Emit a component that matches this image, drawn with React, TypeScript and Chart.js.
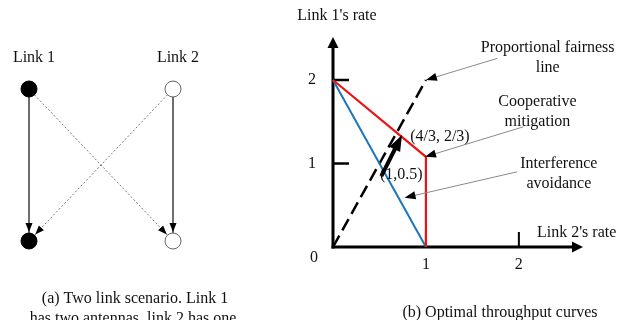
import React, { useEffect, useRef } from 'react';
import { Chart, registerables } from 'chart.js';

Chart.register(...registerables);

const W = 628;
const H = 320;
const FONT = '16px "Liberation Serif", "Times New Roman", serif';
const INK = '#111111';

// ---------- (a) Two link scenario ----------
const linkNames = ['Link 1', 'Link 2'];
const linkColumn = [0, 1];
const transmitterRow = 1;
const receiverRow = 0;
const directEdges = [[0, 0], [1, 1]]; // [transmitting link, receiving link]
const crossEdges = [[0, 1], [1, 0]];
const captionA = ['(a) Two link scenario. Link 1', 'has two antennas, link 2 has one.'];

// ---------- (b) Optimal throughput curves (x: Link 2's rate, y: Link 1's rate) ----------
const xAxisMax = 2.69;
const yAxisMax = 2.515;
const xTickValues = [1, 2];
const yTickValues = [1, 2];
const xTickLabels = ['1', '2'];
const yTickLabels = ['1', '2'];
const interferenceAvoidance = [{ x: 0, y: 2 }, { x: 1, y: 0 }];
const cooperativeMitigation = [{ x: 0, y: 2 }, { x: 1, y: 1.08 }, { x: 1, y: 0 }];
const proportionalFairness = [{ x: 0, y: 0 }, { x: 1, y: 2 }];
const gainArrow = [{ x: 0.52, y: 0.85 }, { x: 0.742, y: 1.34 }];
const pointLabels = [
  { text: '(4/3, 2/3)', x: 0.83, y: 1.32 },
  { text: '(1,0.5)', x: 0.505, y: 0.86 },
];
const calloutLines = [
  ['Proportional fairness', 'line'],
  ['Cooperative', 'mitigation'],
  ['Interference', 'avoidance'],
];
const calloutAnchors = [
  { x: 2.31, y: 2.38 },
  { x: 2.2, y: 1.74 },
  { x: 2.43, y: 1.0 },
];
const calloutTails = [
  { x: 1.77, y: 2.26 },
  { x: 2.05, y: 1.44 },
  { x: 1.98, y: 0.9 },
];
const calloutHeads = [
  { x: 1.0, y: 2.0 },
  { x: 0.99, y: 1.08 },
  { x: 0.77, y: 0.59 },
];
const yTitle = "Link 1's rate";
const xTitle = "Link 2's rate";
const captionB = '(b) Optimal throughput curves';

function head(ctx: CanvasRenderingContext2D, tx: number, ty: number, ux: number, uy: number, len: number, wid: number, color: string) {
  const bx = tx - ux * len;
  const by = ty - uy * len;
  ctx.save();
  ctx.fillStyle = color;
  ctx.beginPath();
  ctx.moveTo(tx, ty);
  ctx.lineTo(bx - uy * wid / 2, by + ux * wid / 2);
  ctx.lineTo(bx + uy * wid / 2, by - ux * wid / 2);
  ctx.closePath();
  ctx.fill();
  ctx.restore();
}

function arrow(
  ctx: CanvasRenderingContext2D,
  x1: number, y1: number, x2: number, y2: number,
  o: { lineWidth: number; color: string; headLen: number; headWidth: number; headColor: string }
) {
  const dx = x2 - x1;
  const dy = y2 - y1;
  const len = Math.hypot(dx, dy);
  const ux = dx / len;
  const uy = dy / len;
  ctx.save();
  ctx.strokeStyle = o.color;
  ctx.lineWidth = o.lineWidth;
  ctx.lineCap = 'butt';
  ctx.beginPath();
  ctx.moveTo(x1, y1);
  ctx.lineTo(x2 - ux * (o.headLen - 1), y2 - uy * (o.headLen - 1));
  ctx.stroke();
  ctx.restore();
  head(ctx, x2, y2, ux, uy, o.headLen, o.headWidth, o.headColor);
}

function text(ctx: CanvasRenderingContext2D, s: string, x: number, y: number, align: CanvasTextAlign = 'center') {
  ctx.save();
  ctx.font = FONT;
  ctx.fillStyle = INK;
  ctx.textAlign = align;
  ctx.textBaseline = 'middle';
  ctx.fillText(s, x, y);
  ctx.restore();
}

const NODE_R = 8;

const scenarioPlugin = {
  id: 'scenarioDecor',
  afterDatasetsDraw(chart: any) {
    const { ctx } = chart;
    const xs = chart.scales.x;
    const ys = chart.scales.y;
    const edges = [...directEdges, ...crossEdges];
    edges.forEach(([from, to]) => {
      const x1 = xs.getPixelForValue(linkColumn[from]);
      const y1 = ys.getPixelForValue(transmitterRow);
      const x2 = xs.getPixelForValue(linkColumn[to]);
      const y2 = ys.getPixelForValue(receiverRow);
      const len = Math.hypot(x2 - x1, y2 - y1);
      const ux = (x2 - x1) / len;
      const uy = (y2 - y1) / len;
      head(ctx, x2 - ux * (NODE_R + 1), y2 - uy * (NODE_R + 1), ux, uy, 9, 7, '#000');
    });
    linkNames.forEach((name, i) => {
      text(ctx, name, xs.getPixelForValue(linkColumn[i]) + 5, ys.getPixelForValue(transmitterRow) - 31);
    });
    text(ctx, captionA[0], 135, 299);
    text(ctx, captionA[1], 135, 319);
  },
};

const ratePlugin = {
  id: 'rateDecor',
  beforeDatasetsDraw(chart: any) {
    const { ctx } = chart;
    const xs = chart.scales.x;
    const ys = chart.scales.y;
    const ox = xs.getPixelForValue(0);
    const oy = ys.getPixelForValue(0);
    const axisOpts = { lineWidth: 3, color: '#000', headLen: 11, headWidth: 11, headColor: '#000' };
    arrow(ctx, ox, oy + 1.5, ox, ys.getPixelForValue(yAxisMax), axisOpts);
    arrow(ctx, ox - 1.5, oy, xs.getPixelForValue(xAxisMax), oy, axisOpts);
    ctx.save();
    ctx.strokeStyle = '#000';
    ctx.lineWidth = 2.5;
    yTickValues.forEach((v) => {
      const py = ys.getPixelForValue(v);
      ctx.beginPath();
      ctx.moveTo(ox, py);
      ctx.lineTo(ox + 16, py);
      ctx.stroke();
    });
    ctx.lineWidth = 2;
    xTickValues.forEach((v) => {
      const px = xs.getPixelForValue(v);
      ctx.beginPath();
      ctx.moveTo(px, oy);
      ctx.lineTo(px, oy - 15);
      ctx.stroke();
    });
    ctx.restore();
  },
  afterDatasetsDraw(chart: any) {
    const { ctx } = chart;
    const xs = chart.scales.x;
    const ys = chart.scales.y;
    const ox = xs.getPixelForValue(0);
    const oy = ys.getPixelForValue(0);
    // gain arrow
    arrow(
      ctx,
      xs.getPixelForValue(gainArrow[0].x), ys.getPixelForValue(gainArrow[0].y),
      xs.getPixelForValue(gainArrow[1].x), ys.getPixelForValue(gainArrow[1].y),
      { lineWidth: 4, color: '#000', headLen: 16, headWidth: 12, headColor: '#000' }
    );
    // callouts
    calloutLines.forEach((lines, i) => {
      arrow(
        ctx,
        xs.getPixelForValue(calloutTails[i].x), ys.getPixelForValue(calloutTails[i].y),
        xs.getPixelForValue(calloutHeads[i].x), ys.getPixelForValue(calloutHeads[i].y),
        { lineWidth: 1, color: '#8a8a8a', headLen: 11, headWidth: 8, headColor: '#000' }
      );
      const ax = xs.getPixelForValue(calloutAnchors[i].x);
      const ay = ys.getPixelForValue(calloutAnchors[i].y);
      lines.forEach((s, j) => text(ctx, s, ax, ay + j * 20));
    });
    pointLabels.forEach((p) => text(ctx, p.text, xs.getPixelForValue(p.x), ys.getPixelForValue(p.y), 'left'));
    // tick labels
    yTickValues.forEach((v, i) => text(ctx, yTickLabels[i], ox - 21, ys.getPixelForValue(v)));
    xTickValues.forEach((v, i) => text(ctx, xTickLabels[i], xs.getPixelForValue(v), oy + 18));
    text(ctx, '0', ox - 19, oy + 11);
    // titles
    text(ctx, yTitle, ox + 4, ys.getPixelForValue(yAxisMax) - 21);
    text(ctx, xTitle, xs.getPixelForValue(xAxisMax) - 46, oy - 14, 'left');
    text(ctx, captionB, 500, 313);
  },
};

function lineDs(data: any[], color: string, width: number, extra: any = {}) {
  return {
    data,
    showLine: true,
    borderColor: color,
    backgroundColor: color,
    borderWidth: width,
    pointRadius: 0,
    fill: false,
    tension: 0,
    clip: false,
    ...extra,
  };
}

export default function App() {
  const leftRef = useRef<HTMLCanvasElement>(null);
  const rightRef = useRef<HTMLCanvasElement>(null);

  useEffect(() => {
    const nodesLink1 = [
      { x: linkColumn[0], y: transmitterRow },
      { x: linkColumn[0], y: receiverRow },
    ];
    const nodesLink2 = [
      { x: linkColumn[1], y: transmitterRow },
      { x: linkColumn[1], y: receiverRow },
    ];
    const edgeDs = [
      ...directEdges.map(([a, b]) =>
        lineDs([{ x: linkColumn[a], y: transmitterRow }, { x: linkColumn[b], y: receiverRow }], '#5a5a5a', 1, { order: 2 })
      ),
      ...crossEdges.map(([a, b]) =>
        lineDs([{ x: linkColumn[a], y: transmitterRow }, { x: linkColumn[b], y: receiverRow }], '#7a7a7a', 1, {
          order: 2,
          borderDash: [2, 2],
        })
      ),
    ];
    const left = new Chart(leftRef.current!, {
      type: 'scatter',
      data: {
        datasets: [
          {
            data: nodesLink1,
            pointRadius: NODE_R,
            pointBackgroundColor: '#000',
            pointBorderColor: '#000',
            pointBorderWidth: 1,
            showLine: false,
            clip: false,
            order: 0,
          },
          {
            data: nodesLink2,
            pointRadius: NODE_R,
            pointBackgroundColor: '#fff',
            pointBorderColor: '#666',
            pointBorderWidth: 1,
            showLine: false,
            clip: false,
            order: 0,
          },
          ...edgeDs,
        ] as any,
      },
      options: {
        animation: false,
        responsive: false,
        events: [],
        layout: { padding: { left: 29, right: W - 173, top: 89, bottom: H - 241 } },
        scales: {
          x: { type: 'linear', min: 0, max: 1, display: false },
          y: { type: 'linear', min: 0, max: 1, display: false },
        },
        plugins: { legend: { display: false }, tooltip: { enabled: false } },
      },
      plugins: [scenarioPlugin],
    });

    const right = new Chart(rightRef.current!, {
      type: 'scatter',
      data: {
        datasets: [
          lineDs(cooperativeMitigation, '#ee1111', 2.2),
          lineDs(interferenceAvoidance, '#1b75bb', 2),
          lineDs(proportionalFairness, '#000', 2.5, { borderDash: [13, 6] }),
        ] as any,
      },
      options: {
        animation: false,
        responsive: false,
        events: [],
        layout: { padding: { left: 333, right: W - 583, top: 37, bottom: H - 247 } },
        scales: {
          x: { type: 'linear', min: 0, max: xAxisMax, display: false },
          y: { type: 'linear', min: 0, max: yAxisMax, display: false },
        },
        plugins: { legend: { display: false }, tooltip: { enabled: false } },
      },
      plugins: [ratePlugin],
    });

    return () => {
      left.destroy();
      right.destroy();
    };
  }, []);

  return (
    <div style={{ position: 'absolute', left: 0, top: 0, width: W, height: H, background: '#fff', overflow: 'hidden' }}>
      <canvas ref={leftRef} width={W} height={H} style={{ position: 'absolute', left: 0, top: 0, width: W, height: H }} />
      <canvas ref={rightRef} width={W} height={H} style={{ position: 'absolute', left: 0, top: 0, width: W, height: H }} />
    </div>
  );
}
